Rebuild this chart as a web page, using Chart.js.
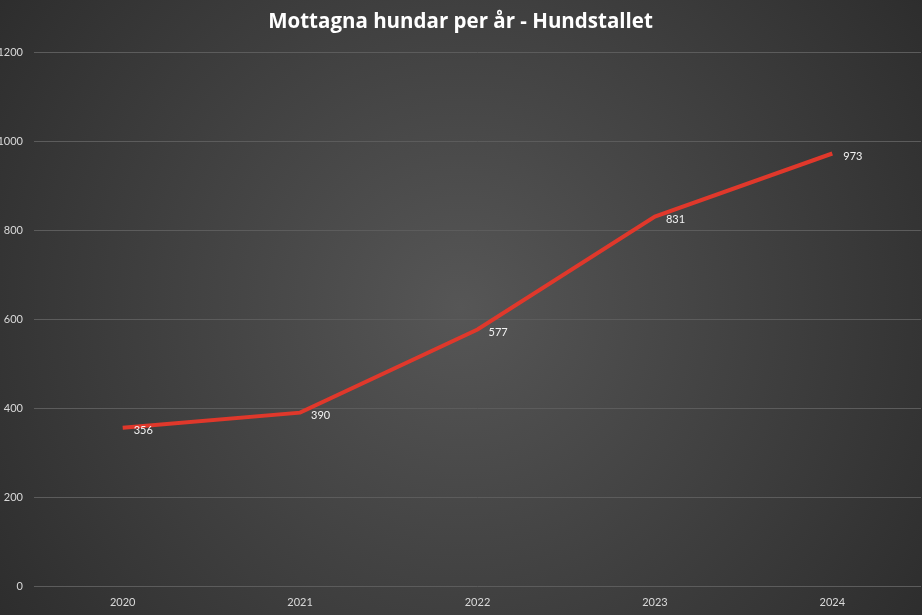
<!DOCTYPE html>
<html>
<head>
<meta charset="utf-8">
<script src="https://cdn.jsdelivr.net/npm/chart.js@4/dist/chart.umd.min.js"></script>
<style>
  html, body { margin: 0; padding: 0; background: #3a3a3a; }
  #wrap { width: 922px; height: 615px; }
</style>
</head>
<body>
<div id="wrap"><canvas id="chart" width="922" height="615"></canvas></div>
<script>
const years = ['2020', '2021', '2022', '2023', '2024'];
const dogs = [356, 390, 577, 831, 973];
const yTicks = [0, 200, 400, 600, 800, 1000, 1200];

// radial grey backdrop behind everything
const backdrop = {
    id: 'backdrop',
    beforeDraw(chart) {
        const { ctx, width, height } = chart;
        const g = ctx.createRadialGradient(width / 2, height / 2, 0, width / 2, height / 2, width * 0.62);
        g.addColorStop(0, '#565656');
        g.addColorStop(1, '#2c2c2c');
        ctx.save();
        ctx.fillStyle = g;
        ctx.fillRect(0, 0, width, height);
        ctx.restore();
    }
};

// value labels to the right of each point
const valueLabels = {
    id: 'valueLabels',
    afterDatasetsDraw(chart) {
        const { ctx } = chart;
        const meta = chart.getDatasetMeta(0);
        ctx.save();
        ctx.font = '11px Lato, "Open Sans", sans-serif';
        ctx.fillStyle = '#f2f2f2';
        ctx.textAlign = 'left';
        ctx.textBaseline = 'middle';
        meta.data.forEach((pt, i) => {
            ctx.fillText(String(dogs[i]), pt.x + 11, pt.y + 3);
        });
        ctx.restore();
    }
};

const config = {
    type: 'line',
    data: {
        labels: years,
        datasets: [{
            label: 'Mottagna hundar',
            data: dogs,
            borderColor: '#e0382b',
            borderWidth: 4,
            pointRadius: 0,
            fill: false,
            tension: 0
        }]
    },
    options: {
        responsive: false,
        animation: false,
        layout: { padding: { top: 0, right: 1, bottom: 0, left: 0 } },
        plugins: {
            legend: { display: false },
            tooltip: { enabled: false },
            title: {
                display: true,
                text: 'Mottagna hundar per år - Hundstallet',
                color: '#ffffff',
                font: { family: '"Open Sans"', size: 20.5, weight: 'bold' },
                padding: { top: 10, bottom: 18 }
            }
        },
        scales: {
            x: {
                offset: true,
                grid: { display: false, drawTicks: false },
                border: { display: false },
                ticks: {
                    color: '#d9d9d9',
                    font: { family: 'Lato, "Open Sans", sans-serif', size: 11 },
                    padding: 10
                },
                afterFit(scale) { scale.height = 29; }
            },
            y: {
                min: 0,
                max: 1200,
                afterBuildTicks(scale) { scale.ticks = yTicks.map(v => ({ value: v })); },
                grid: { color: '#5c5c5c', lineWidth: 1, drawTicks: false },
                border: { display: false },
                ticks: {
                    color: '#d9d9d9',
                    font: { family: 'Lato, "Open Sans", sans-serif', size: 11 },
                    padding: 11,
                    callback: v => String(v)
                },
                afterFit(scale) { scale.width = 34; }
            }
        }
    },
    plugins: [backdrop, valueLabels]
};

new Chart(document.getElementById('chart').getContext('2d'), config);
</script>
</body>
</html>
